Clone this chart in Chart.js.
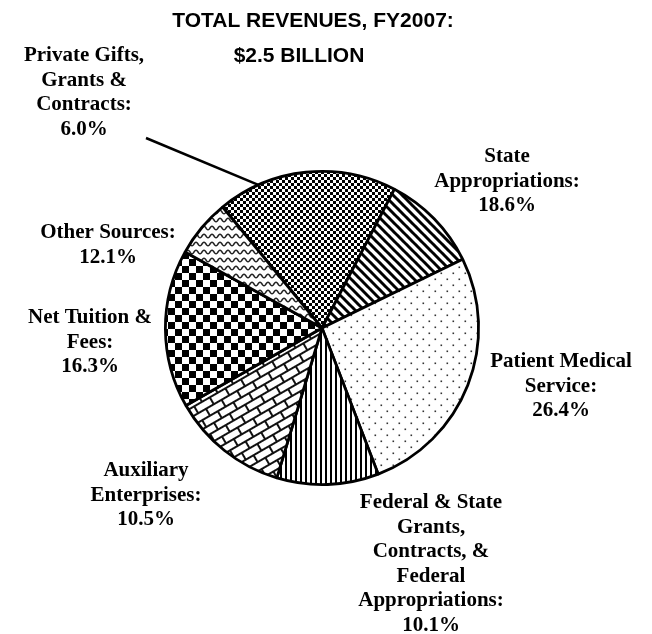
<!DOCTYPE html>
<html>
<head>
<meta charset="utf-8">
<script src="https://cdn.jsdelivr.net/npm/chart.js@4"></script>
<style>
  body { margin: 0; background: #fff; }
  canvas { display: block; }
</style>
</head>
<body>
<canvas id="revenues" width="652" height="634"></canvas>
<script>
// Data, clockwise from the first slice
const categories = ["State Appropriations", "Federal & State Grants, Contracts, & Federal Appropriations",
  "Patient Medical Service", "Auxiliary Enterprises", "Other Sources", "Net Tuition & Fees",
  "Private Gifts, Grants & Contracts"];
const values = [18.6, 10.1, 26.4, 10.5, 12.1, 16.3, 6.0];
// how each label is broken into lines (the percentage goes on its own last line)
const labelLines = [
  ["State", "Appropriations:"],
  ["Federal & State", "Grants,", "Contracts, &", "Federal", "Appropriations:"],
  ["Patient Medical", "Service:"],
  ["Auxiliary", "Enterprises:"],
  ["Other Sources:"],
  ["Net Tuition &", "Fees:"],
  ["Private Gifts,", "Grants &", "Contracts:"]
];
const titleLines = ["TOTAL REVENUES, FY2007:", "$2.5 BILLION"];

// Layout: label anchor (first baseline) as offset from pie centre
const labelOffsets = [[185, -166], [109, 180], [239, 39], [-176, 148], [-214, -90], [-232, -5], [-238, -267]];

// ---- fill patterns ----
function makePattern(w, h, draw, matrix) {
  const c = document.createElement("canvas");
  c.width = w;
  c.height = h;
  const g = c.getContext("2d");
  g.fillStyle = "#fff";
  g.fillRect(0, 0, w, h);
  g.fillStyle = "#000";
  g.strokeStyle = "#000";
  draw(g, w, h);
  const p = g.createPattern(c, "repeat");
  if (matrix) p.setTransform(matrix);
  return p;
}

const fineChecker = makePattern(6, 6, g => {
  g.fillStyle = "#000";
  g.fillRect(0, 0, 3, 3);
  g.fillRect(3, 3, 3, 3);
});

const diagStripes = makePattern(9, 9, g => {
  g.lineWidth = 3;
  for (let k = -9; k <= 9; k += 9) {
    g.beginPath();
    g.moveTo(k - 1, -1);
    g.lineTo(k + 10, 10);
    g.stroke();
  }
});

const dots = makePattern(12, 12, g => {
  g.fillStyle = "#333";
  g.fillRect(2.5, 2.5, 1.6, 1.6);
  g.fillRect(8.5, 8.5, 1.6, 1.6);
});

const vertStripes = makePattern(5, 5, g => {
  g.fillRect(0, 0, 2, 5);
});

const bricks = makePattern(18, 16, g => {
  g.lineWidth = 2;
  g.strokeStyle = "#111";
  g.beginPath();
  g.moveTo(0, 1); g.lineTo(18, 1);
  g.moveTo(0, 9); g.lineTo(18, 9);
  g.moveTo(1, 0); g.lineTo(1, 9);
  g.moveTo(10, 9); g.lineTo(10, 16);
  g.stroke();
}, new DOMMatrix().rotate(-30));

const checkerboard = makePattern(14, 14, g => {
  g.fillRect(0, 0, 7, 7);
  g.fillRect(7, 7, 7, 7);
});

const waves = makePattern(8, 8, g => {
  g.lineWidth = 1.5;
  g.strokeStyle = "#222";
  g.beginPath();
  for (let x = -1; x <= 9; x += 0.5) {
    const y = 4 + 1.8 * Math.cos(2 * Math.PI * x / 8);
    if (x === -1) g.moveTo(x, y); else g.lineTo(x, y);
  }
  g.stroke();
});

const fills = [fineChecker, diagStripes, dots, vertStripes, bricks, checkerboard, waves];

// ---- labels, title and leader line ----
const textPlugin = {
  id: "textPlugin",
  afterDraw(chart) {
    const ctx = chart.ctx;
    const arc = chart.getDatasetMeta(0).data[0];
    const cx = arc.x, cy = arc.y, r = arc.outerRadius;
    ctx.save();
    ctx.fillStyle = "#000";
    ctx.textAlign = "center";
    ctx.textBaseline = "alphabetic";

    ctx.font = "bold 21px 'Liberation Sans', Arial, sans-serif";
    ctx.fillText(titleLines[0], 313, 27);
    ctx.fillText(titleLines[1], 299, 62);

    ctx.font = "bold 21px 'Liberation Serif', 'Times New Roman', serif";
    const lh = 24.5;
    labelLines.forEach((lines, i) => {
      const all = lines.concat([values[i].toFixed(1) + "%"]);
      const x = cx + labelOffsets[i][0];
      const y = cy + labelOffsets[i][1];
      all.forEach((t, j) => ctx.fillText(t, x, y + j * lh));
    });

    // leader line from the Private Gifts label to the pie edge
    const a = -24 * Math.PI / 180;
    ctx.strokeStyle = "#000";
    ctx.lineWidth = 2.5;
    ctx.beginPath();
    ctx.moveTo(cx - 176, cy - 190);
    ctx.lineTo(cx + r * Math.sin(a), cy - r * Math.cos(a));
    ctx.stroke();
    ctx.restore();
  }
};

new Chart(document.getElementById("revenues"), {
  type: "pie",
  data: {
    labels: categories,
    datasets: [{
      data: values,
      backgroundColor: fills,
      borderColor: "#000",
      borderWidth: 2.8
    }]
  },
  options: {
    responsive: false,
    animation: false,
    rotation: -39.4,
    layout: { padding: { left: 164, right: 172, top: 170, bottom: 148 } },
    plugins: {
      legend: { display: false },
      tooltip: { enabled: false },
      title: { display: false }
    }
  },
  plugins: [textPlugin]
});
</script>
</body>
</html>
